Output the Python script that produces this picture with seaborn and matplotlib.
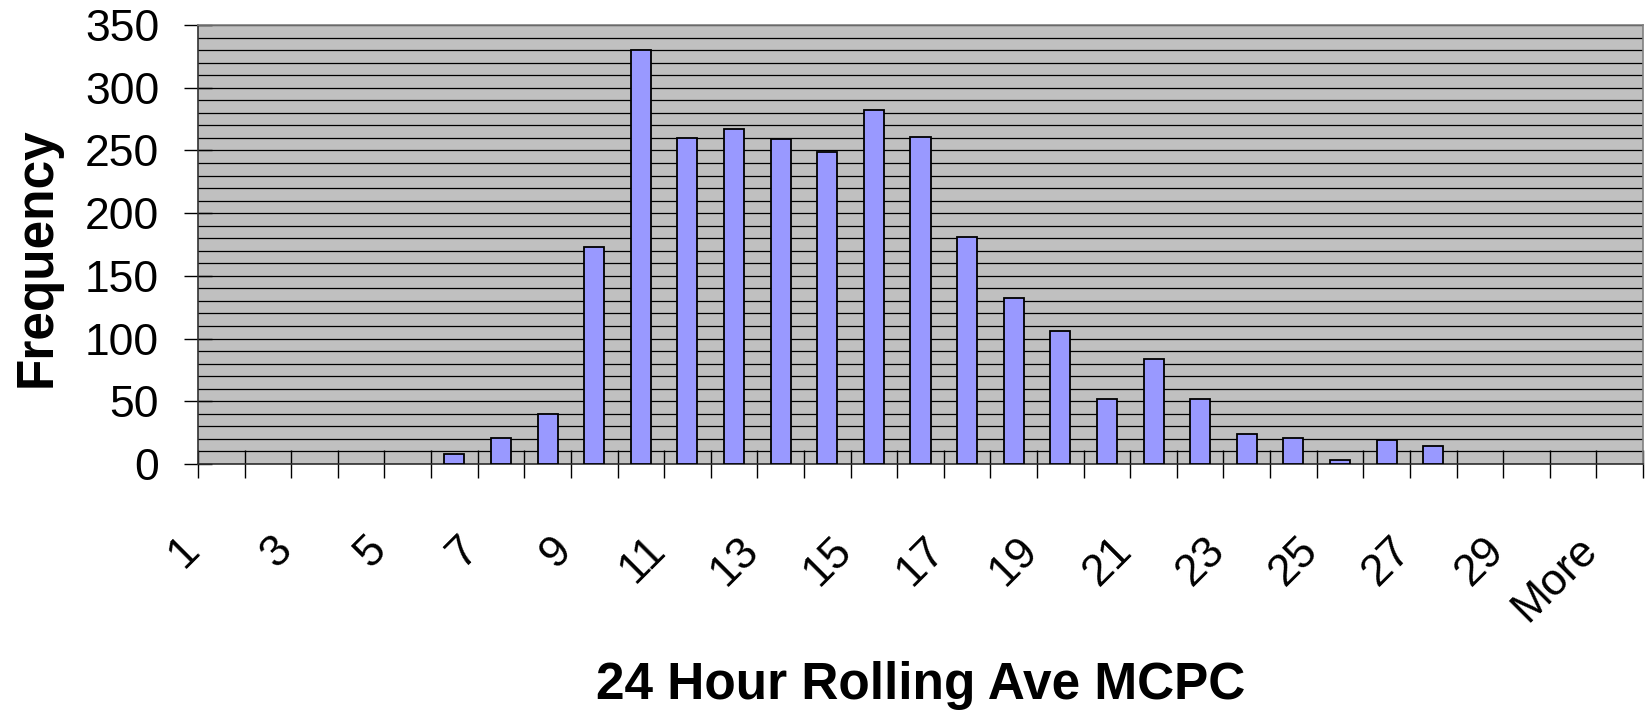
import matplotlib
matplotlib.use("Agg")
import matplotlib.pyplot as plt
import matplotlib.transforms as mtransforms
from matplotlib.ticker import MultipleLocator, FixedLocator
import seaborn as sns
import pandas as pd

# histogram bins (Excel style) and counts
bins = [str(i) for i in range(1, 31)] + ["More"]
frequency = [0, 0, 0, 0, 0, 8, 21, 40, 173, 330,
             260, 267, 259, 249, 282, 261, 181, 132, 106, 52,
             84, 52, 24, 21, 3, 19, 14, 0, 0, 0,
             0]
y_ticks = [0, 50, 100, 150, 200, 250, 300, 350]
# only every other bin gets a label
x_tick_labels = [b if i % 2 == 0 else "" for i, b in enumerate(bins)]

df = pd.DataFrame({"bin": bins, "freq": frequency})

sns.set_style("white")
plt.rcParams["font.family"] = ["Liberation Sans", "DejaVu Sans"]
plt.rcParams["text.color"] = "black"
plt.rcParams["xtick.color"] = "black"
plt.rcParams["ytick.color"] = "black"

fig = plt.figure(figsize=(16.46, 7.14), dpi=100)
ax = fig.add_axes([198 / 1646, 1 - 464 / 714, 1445 / 1646, 439 / 714])

sns.barplot(data=df, x="bin", y="freq", color="#9999FF", saturation=1,
            edgecolor="black", linewidth=1.3, width=0.43, ax=ax, zorder=3)

# empty bins are not drawn at all in the original
for patch in ax.patches:
    if patch.get_height() == 0:
        patch.set_visible(False)

ax.set_facecolor("#C0C0C0")
ax.set_xlim(-0.5, len(bins) - 0.5)
ax.set_ylim(0, 350)

# gridlines every 10
ax.set_yticks(y_ticks)
ax.yaxis.set_minor_locator(MultipleLocator(10))
ax.grid(True, axis="y", which="both", color="black", linewidth=0.9)
ax.set_axisbelow(True)

ax.tick_params(axis="y", which="major", left=True, direction="inout", length=20,
               width=1, color="black", labelsize=32, pad=18, labelcolor="black")
ax.tick_params(axis="y", which="minor", length=0)

# crossing tick marks on category boundaries, labels at centres
ax.set_xticks(range(len(bins)))
ax.set_xticklabels(x_tick_labels, rotation=45, ha="right", va="top")
ax.xaxis.set_minor_locator(FixedLocator([i - 0.5 for i in range(len(bins) + 1)]))
ax.tick_params(axis="x", which="major", bottom=True, length=0, labelsize=32,
               pad=47, labelcolor="black")
ax.tick_params(axis="x", which="minor", bottom=True, direction="inout", length=20,
               width=1, color="black")
shift = mtransforms.ScaledTranslation(-14 / 100, 0, fig.dpi_scale_trans)
for lab in ax.get_xticklabels():
    lab.set_transform(lab.get_transform() + shift)

ax.set_xlabel("")
ax.set_ylabel("")
for side in ["left", "bottom"]:
    ax.spines[side].set_color("#303030")
    ax.spines[side].set_linewidth(1.2)
for side in ["top", "right"]:
    ax.spines[side].set_color("#808080")
    ax.spines[side].set_linewidth(1.2)

fig.text(37 / 1646, 1 - 257 / 714, "Frequency", rotation=90, ha="center",
         va="center", fontsize=37, fontweight="bold", color="black")
fig.text(921 / 1646, 1 - 685 / 714, "24 Hour Rolling Ave MCPC", ha="center",
         va="center", fontsize=37, fontweight="bold", color="black")

fig.savefig("out.png", dpi=100, facecolor="white")
